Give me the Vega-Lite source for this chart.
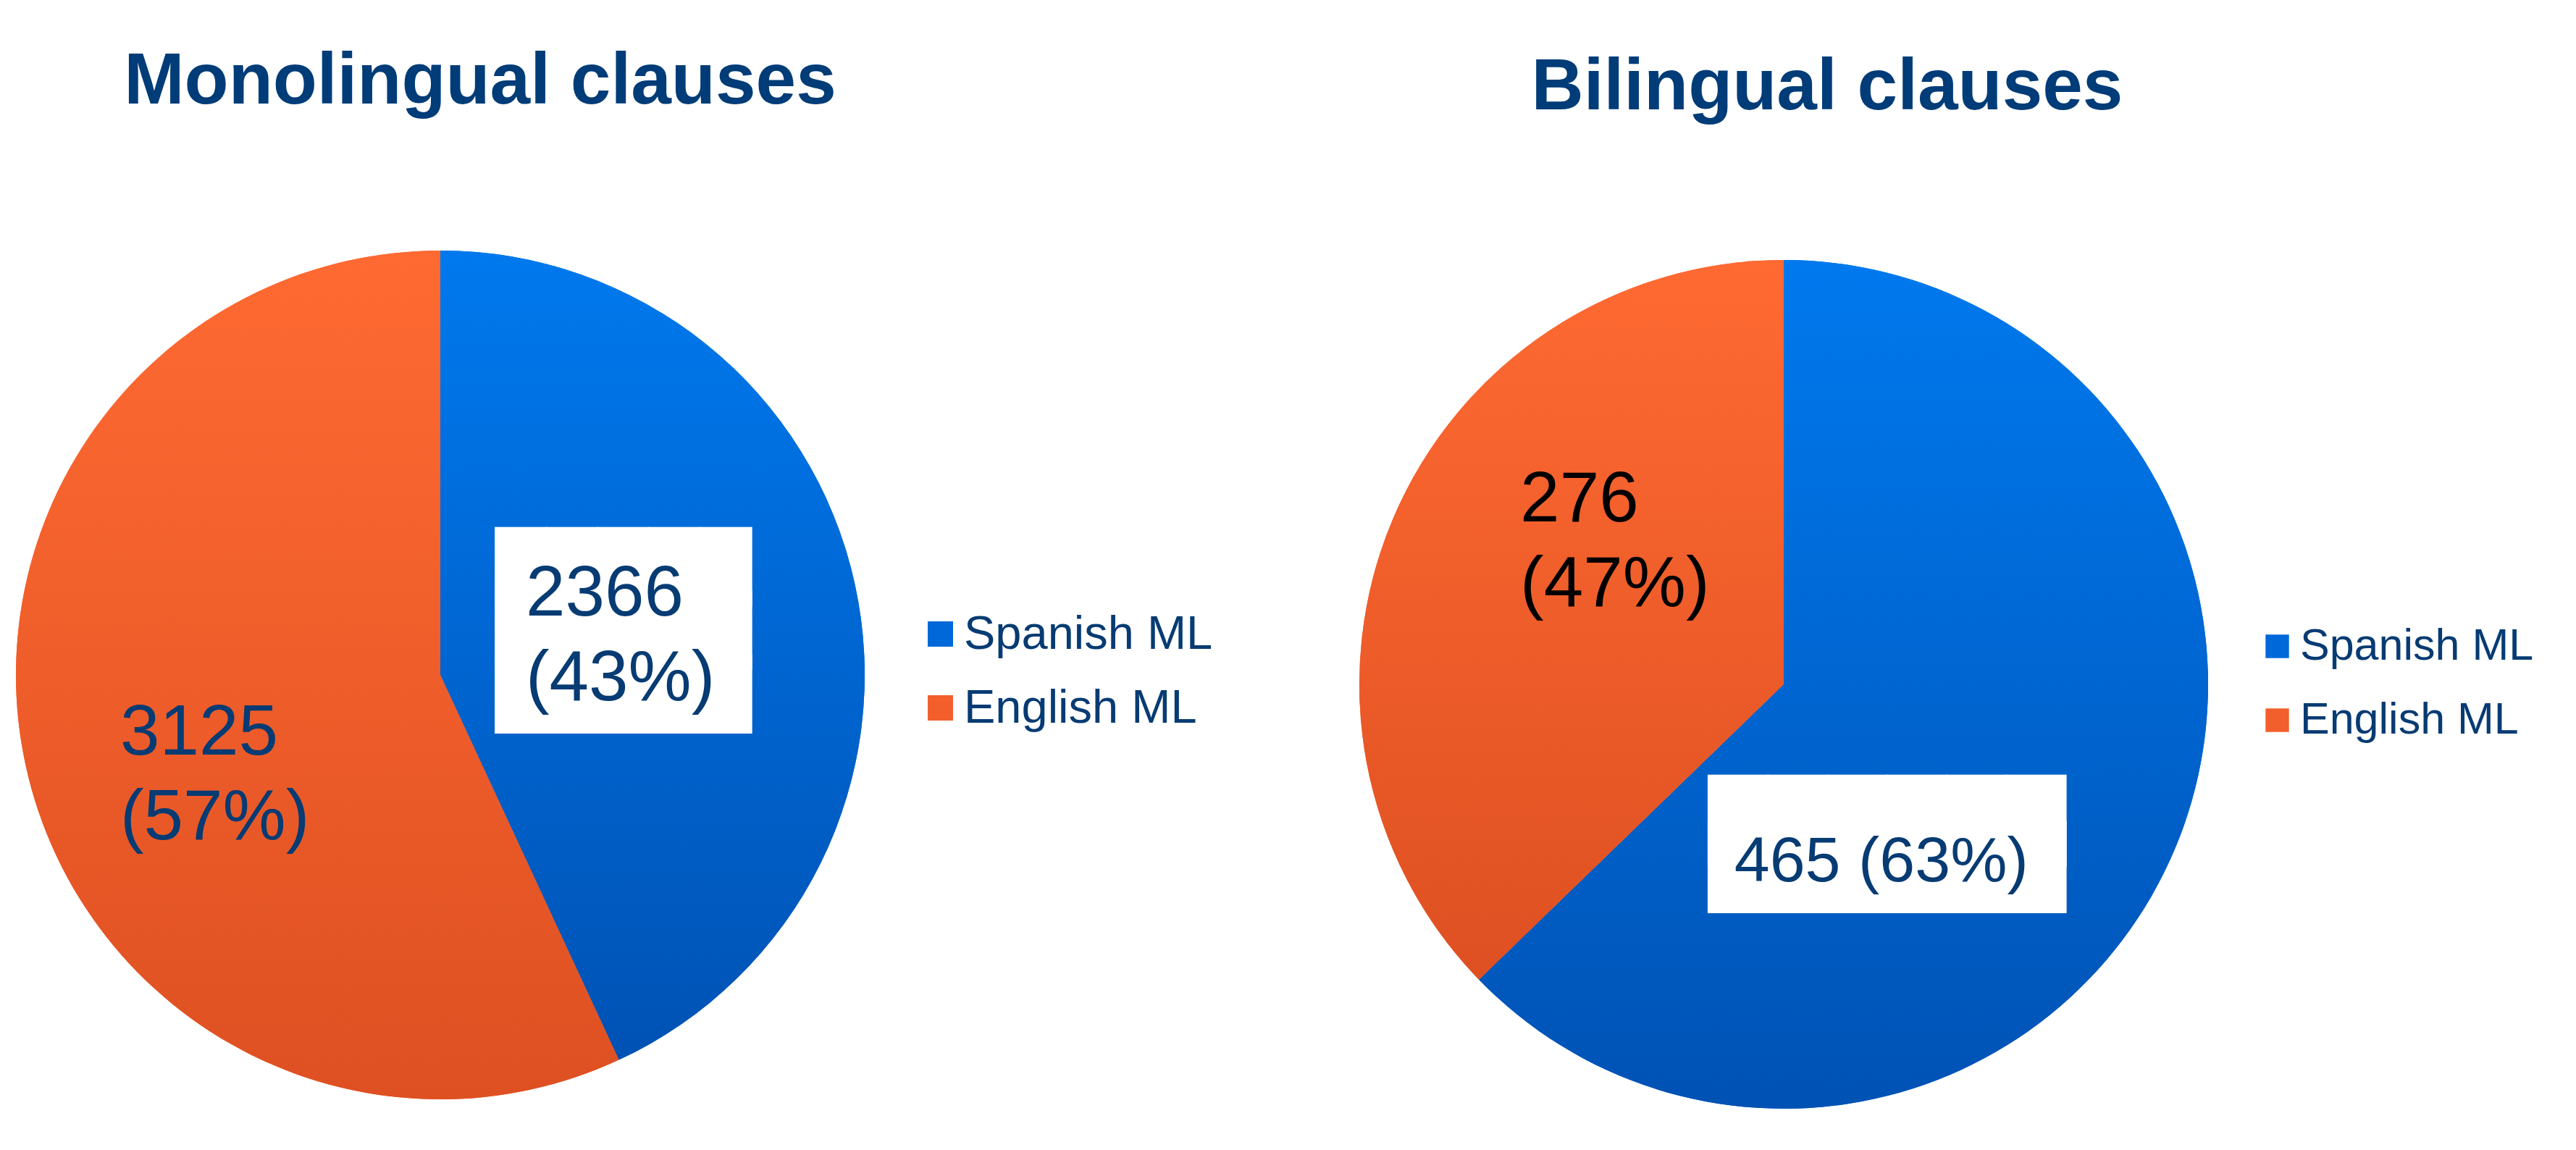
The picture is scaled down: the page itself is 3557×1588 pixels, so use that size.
{
  "$schema": "https://vega.github.io/schema/vega-lite/v6.json",
  "background": "white",
  "padding": {"left": 22, "top": 63, "right": 0, "bottom": 0},
  "bounds": "flush",
  "config": {"view": {"stroke": null}, "concat": {"spacing": 683}},
  "datasets": {
    "mono": [
      {"language": "Spanish ML", "count": 2366, "label": "2366\n(43%)"},
      {"language": "English ML", "count": 3125, "label": "3125\n(57%)"}
    ],
    "bi": [
      {"language": "Spanish ML", "count": 465, "label": "465 (63%)"},
      {"language": "English ML", "count": 276, "label": "276\n(47%)"}
    ]
  },
  "resolve": {"scale": {"color": "independent", "theta": "independent"}, "legend": {"color": "independent"}},
  "hconcat": [
    {
      "data": {"name": "mono"},
      "width": 1172,
      "height": 1172,
      "title": {"text": "Monolingual clauses", "font": "Liberation Sans", "fontWeight": "bold", "fontSize": 100, "color": "#003C78", "baseline": "alphabetic", "offset": 103, "dx": 55, "anchor": "middle"},
      "encoding": {
        "theta": {"field": "count", "type": "quantitative", "stack": true},
        "order": {"field": "language", "sort": "descending"}
      },
      "layer": [
        {
          "mark": {"type": "arc"},
          "encoding": {
            "color": {"field": "language", "type": "nominal",
              "scale": {"domain": ["Spanish ML", "English ML"], "range": ["#0068D8", "#F25F2C"]},
              "legend": {"title": null, "orient": "none", "legendX": 1244, "legendY": 497, "symbolType": "square", "symbolSize": 1225, "symbolStrokeWidth": 0, "labelFontSize": 65, "labelFont": "Liberation Sans", "labelColor": "#073B73", "labelOffset": 0, "labelLimit": 1000, "rowPadding": 36, "padding": 0}}
          }
        },
        {
          "mark": {"type": "arc"},
          "encoding": {
            "fill": {
              "condition": {"test": "datum.language === 'Spanish ML'", "value": {"gradient": "linear", "x1": 0, "y1": 0, "x2": 0, "y2": 1, "stops": [{"offset": 0, "color": "#0079EE"}, {"offset": 1, "color": "#0052B4"}]}},
              "value": {"gradient": "linear", "x1": 0, "y1": 0, "x2": 0, "y2": 1, "stops": [{"offset": 0, "color": "#FF6A32"}, {"offset": 1, "color": "#DE5022"}]}
            }
          }
        },
        {
          "mark": {"type": "text", "font": "DejaVu Sans", "fontSize": 92, "lineHeight": 88, "lineBreak": "\n", "align": "center", "baseline": "middle", "color": "white", "dx": -1, "dy": -90},
          "encoding": {
            "radius": {"value": 260},
            "text": {"condition": {"test": "datum.language === 'Spanish ML'", "value": "█████\n█████\n█████"}, "value": ""}
          }
        },
        {
          "mark": {"type": "text", "font": "Liberation Sans", "fontSize": 98, "lineHeight": 117, "lineBreak": "\n", "align": "left", "baseline": "middle", "color": "#073B73", "dx": -136, "dy": -55},
          "encoding": {
            "radius": {"value": 260},
            "text": {"condition": {"test": "datum.language === 'Spanish ML'", "field": "label"}, "value": ""}
          }
        },
        {
          "mark": {"type": "text", "font": "Liberation Sans", "fontSize": 98, "lineHeight": 117, "lineBreak": "\n", "align": "left", "baseline": "middle", "color": "#073B73", "dx": -110, "dy": 8},
          "encoding": {
            "radius": {"value": 340},
            "text": {"condition": {"test": "datum.language === 'English ML'", "field": "label"}, "value": ""}
          }
        }
      ]
    },
    {
      "data": {"name": "bi"},
      "width": 1172,
      "height": 1198,
      "title": {"text": "Bilingual clauses", "font": "Liberation Sans", "fontWeight": "bold", "fontSize": 100, "color": "#003C78", "baseline": "alphabetic", "offset": 95, "dx": 60, "anchor": "middle"},
      "encoding": {
        "theta": {"field": "count", "type": "quantitative", "stack": true},
        "order": {"field": "language", "sort": "descending"}
      },
      "layer": [
        {
          "mark": {"type": "arc"},
          "encoding": {
            "color": {"field": "language", "type": "nominal",
              "scale": {"domain": ["Spanish ML", "English ML"], "range": ["#0068D8", "#F25F2C"]},
              "legend": {"title": null, "orient": "none", "legendX": 1237, "legendY": 516, "symbolType": "square", "symbolSize": 1050, "symbolStrokeWidth": 0, "labelFontSize": 61, "labelFont": "Liberation Sans", "labelColor": "#073B73", "labelOffset": 1, "labelLimit": 1000, "rowPadding": 40, "padding": 0}}
          }
        },
        {
          "mark": {"type": "arc"},
          "encoding": {
            "fill": {
              "condition": {"test": "datum.language === 'Spanish ML'", "value": {"gradient": "linear", "x1": 0, "y1": 0, "x2": 0, "y2": 1, "stops": [{"offset": 0, "color": "#0079EE"}, {"offset": 1, "color": "#0052B4"}]}},
              "value": {"gradient": "linear", "x1": 0, "y1": 0, "x2": 0, "y2": 1, "stops": [{"offset": 0, "color": "#FF6A32"}, {"offset": 1, "color": "#DE5022"}]}
            }
          }
        },
        {
          "mark": {"type": "text", "font": "DejaVu Sans", "fontSize": 107, "lineHeight": 64, "lineBreak": "\n", "align": "center", "baseline": "middle", "color": "white", "dx": -58, "dy": 108},
          "encoding": {
            "radius": {"value": 218},
            "text": {"condition": {"test": "datum.language === 'Spanish ML'", "value": "██████\n██████"}, "value": ""}
          }
        },
        {
          "mark": {"type": "text", "font": "Liberation Sans", "fontSize": 88, "align": "left", "baseline": "middle", "color": "#073B73", "dx": -269, "dy": 161},
          "encoding": {
            "radius": {"value": 218},
            "text": {"condition": {"test": "datum.language === 'Spanish ML'", "field": "label"}, "value": ""}
          }
        },
        {
          "mark": {"type": "text", "font": "Liberation Sans", "fontSize": 98, "lineHeight": 117, "lineBreak": "\n", "align": "left", "baseline": "middle", "color": "#000000", "dx": -95, "dy": -140},
          "encoding": {
            "radius": {"value": 292},
            "text": {"condition": {"test": "datum.language === 'English ML'", "field": "label"}, "value": ""}
          }
        }
      ]
    }
  ]
}
